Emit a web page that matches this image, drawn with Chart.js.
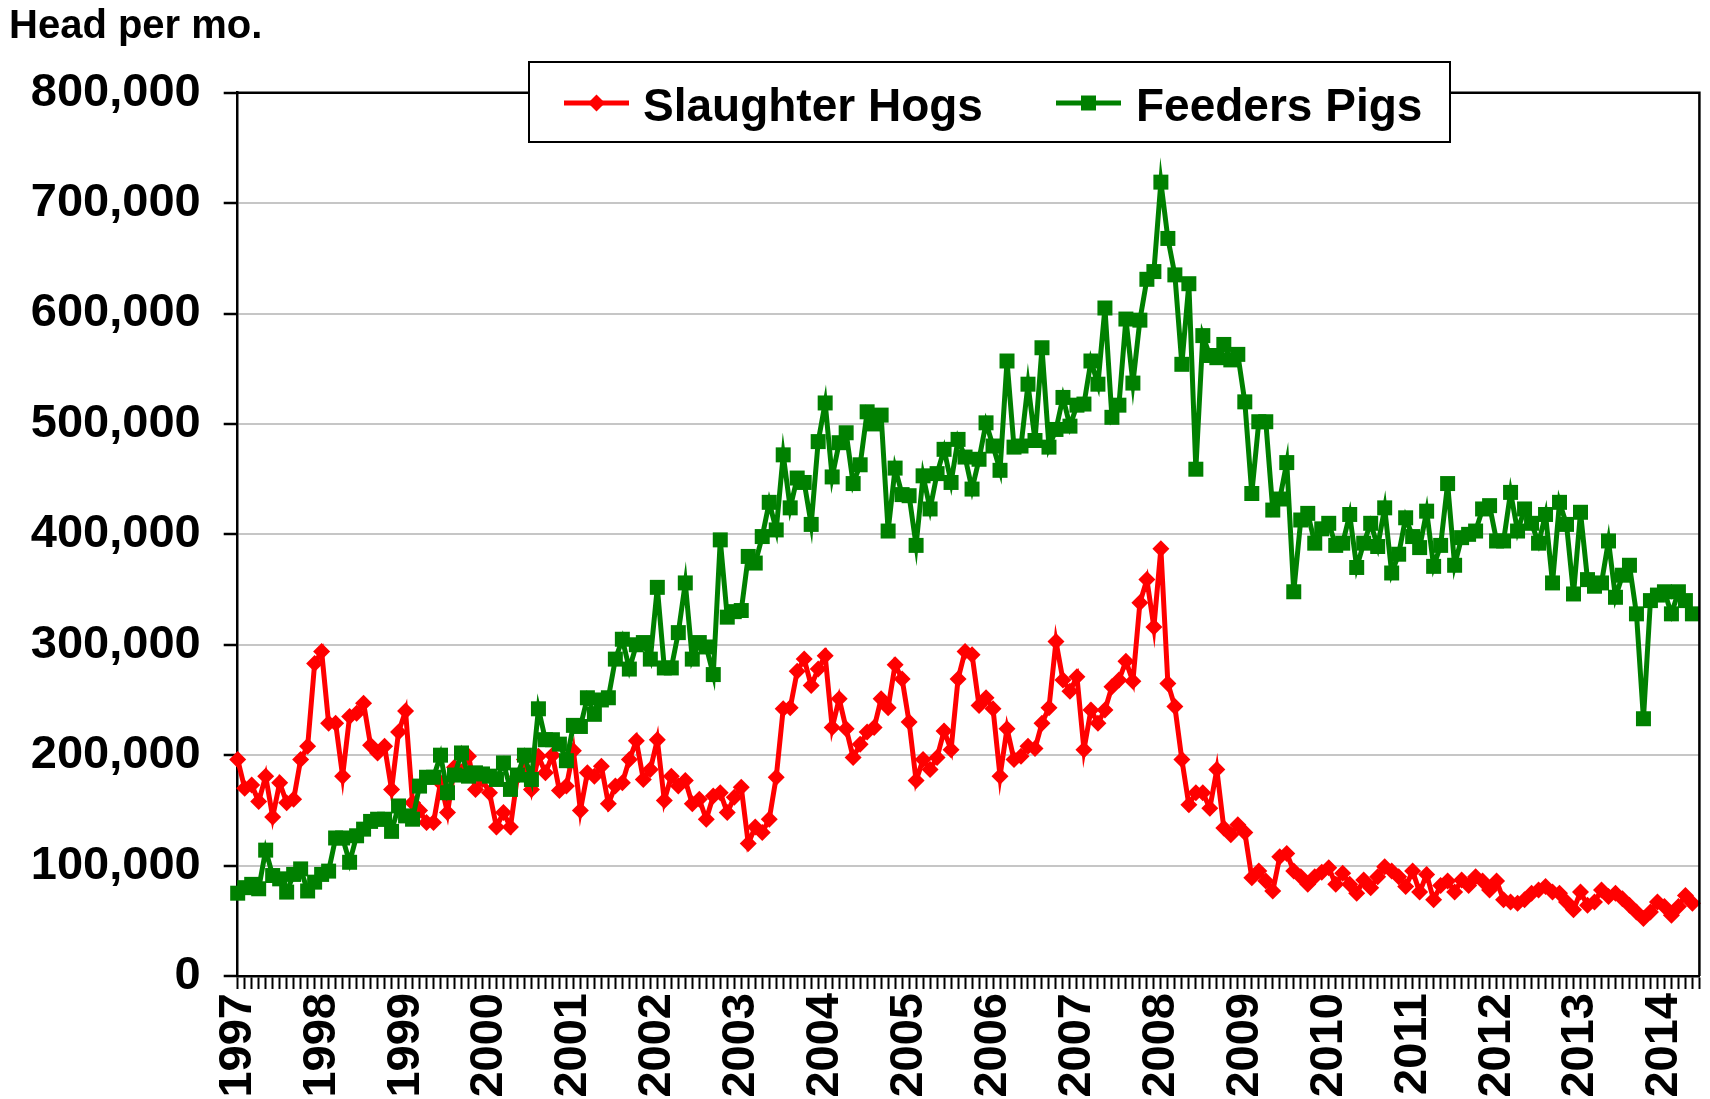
<!DOCTYPE html>
<html>
<head>
<meta charset="utf-8">
<script src="https://cdn.jsdelivr.net/npm/chart.js@4.4.1/dist/chart.umd.min.js"></script>
<style>
html,body{margin:0;padding:0;background:#fff;overflow:hidden}
canvas{display:block}
</style>
</head>
<body>
<canvas id="c" width="1710" height="1099"></canvas>
<script>
// ---- data (head per month) ----
const yearLabels = ['1997','1998','1999','2000','2001','2002','2003','2004','2005','2006','2007','2008','2009','2010','2011','2012','2013','2014'];
const monthNames = ['Jan','Feb','Mar','Apr','May','Jun','Jul','Aug','Sep','Oct','Nov','Dec'];
const monthCount = 210; // Jan 1997 .. Jun 2014 (last month without data)

const slaughterHogs = [
196000,170000,173000,158000,181000,144000,175000,157000,160000,196000,208000,283000,
294000,229000,229000,181000,235000,238000,247000,209000,202000,208000,169000,221000,
240000,157000,150000,139000,139000,175000,148000,189000,185000,199000,169000,178000,
166000,135000,148000,135000,181000,196000,169000,199000,184000,200000,168000,172000,
204000,150000,184000,181000,190000,156000,172000,175000,196000,213000,178000,187000,
214000,159000,181000,172000,177000,156000,160000,142000,163000,166000,148000,162000,
171000,120000,135000,130000,142000,180000,242000,243000,276000,287000,263000,278000,
290000,225000,251000,224000,198000,210000,221000,225000,251000,243000,282000,269000,
230000,177000,196000,187000,198000,222000,205000,269000,294000,291000,245000,252000,
242000,181000,224000,196000,199000,208000,206000,229000,243000,303000,268000,258000,
271000,205000,241000,229000,241000,262000,268000,285000,267000,338000,359000,316000,
387000,265000,244000,196000,155000,166000,166000,152000,187000,134000,128000,137000,
130000,89000,95000,86000,77000,108000,111000,95000,90000,83000,90000,94000,
98000,83000,93000,83000,75000,87000,80000,90000,99000,95000,90000,81000,
95000,76000,92000,69000,82000,86000,76000,87000,82000,90000,86000,78000,
86000,69000,67000,66000,69000,75000,78000,81000,76000,75000,67000,60000,
76000,64000,67000,78000,72000,75000,70000,64000,58000,52000,58000,67000,
63000,55000,63000,73000,66000
];

const feederPigs = [
75000,80000,83000,79000,114000,91000,88000,76000,92000,97000,77000,85000,
92000,95000,125000,125000,103000,127000,133000,140000,142000,142000,131000,154000,
145000,142000,172000,180000,180000,200000,166000,182000,202000,181000,184000,183000,
181000,178000,193000,169000,182000,200000,178000,242000,214000,214000,210000,195000,
227000,226000,252000,237000,250000,252000,287000,305000,278000,300000,302000,287000,
352000,279000,279000,311000,356000,287000,302000,298000,273000,395000,325000,330000,
331000,380000,374000,398000,429000,404000,472000,424000,451000,447000,409000,484000,
519000,452000,483000,492000,446000,463000,511000,500000,508000,403000,460000,436000,
435000,390000,453000,423000,455000,477000,447000,486000,470000,441000,468000,501000,
480000,458000,557000,479000,480000,536000,485000,569000,479000,495000,524000,498000,
517000,518000,557000,536000,605000,506000,517000,595000,537000,594000,631000,638000,
719000,668000,635000,554000,627000,459000,580000,562000,560000,572000,558000,563000,
520000,437000,502000,502000,422000,432000,465000,348000,413000,419000,392000,405000,
410000,390000,392000,418000,370000,392000,410000,389000,424000,365000,382000,415000,
398000,388000,421000,371000,390000,446000,372000,397000,400000,403000,423000,426000,
394000,394000,438000,403000,423000,410000,392000,418000,356000,429000,409000,346000,
420000,359000,353000,356000,394000,343000,363000,372000,328000,233000,340000,345000,
348000,328000,348000,340000,328000
];

const yTickValues = [0,100000,200000,300000,400000,500000,600000,700000,800000];

// category table built from the year labels
const categories = [];
for (let i = 0; i < monthCount; i++) {
  categories.push(monthNames[i % 12] + ' ' + yearLabels[Math.floor(i / 12)]);
}

const FONT = '"Liberation Sans", Arial, Helvetica, sans-serif';
const RED = '#FF0000';
const GREEN = '#008000';

const decorPlugin = {
  id: 'decor',
  beforeDraw(chart) {
    const ctx = chart.ctx;
    ctx.save();
    ctx.fillStyle = '#fff';
    ctx.fillRect(0, 0, chart.width, chart.height);
    ctx.restore();
  },
  afterDraw(chart) {
    const ctx = chart.ctx;
    const a = chart.chartArea;
    ctx.save();
    // plot border: top + right
    ctx.strokeStyle = '#000';
    ctx.lineWidth = 2.5;
    ctx.beginPath();
    ctx.moveTo(a.left, a.top);
    ctx.lineTo(a.right, a.top);
    ctx.lineTo(a.right, a.bottom);
    ctx.stroke();

    // title
    ctx.fillStyle = '#000';
    ctx.font = 'bold 40px ' + FONT;
    ctx.textAlign = 'left';
    ctx.textBaseline = 'alphabetic';
    ctx.fillText('Head per mo.', 9, 38);

    // legend box
    const lx = 529, ly = 62, lw = 921, lh = 80;
    ctx.fillStyle = '#fff';
    ctx.fillRect(lx, ly, lw, lh);
    ctx.strokeStyle = '#000';
    ctx.lineWidth = 2;
    ctx.strokeRect(lx, ly, lw, lh);

    const cy = 103;
    // red sample
    ctx.strokeStyle = RED; ctx.lineWidth = 5;
    ctx.beginPath(); ctx.moveTo(564, cy); ctx.lineTo(629, cy); ctx.stroke();
    ctx.fillStyle = RED;
    const dx = 596.5, r = 8.5;
    ctx.beginPath();
    ctx.moveTo(dx - r, cy); ctx.lineTo(dx, cy - r); ctx.lineTo(dx + r, cy); ctx.lineTo(dx, cy + r);
    ctx.closePath(); ctx.fill();
    // green sample
    ctx.strokeStyle = GREEN; ctx.lineWidth = 5;
    ctx.beginPath(); ctx.moveTo(1056, cy); ctx.lineTo(1121, cy); ctx.stroke();
    ctx.fillStyle = GREEN;
    ctx.fillRect(1088.5 - 7.5, cy - 7.5, 15, 15);

    ctx.fillStyle = '#000';
    ctx.font = 'bold 46px ' + FONT;
    ctx.fillText('Slaughter Hogs', 643, 121);
    ctx.fillText('Feeders Pigs', 1136, 121);
    ctx.restore();
  }
};

new Chart(document.getElementById('c'), {
  type: 'line',
  data: {
    labels: categories,
    datasets: [
      {
        label: 'Slaughter Hogs',
        data: slaughterHogs,
        borderColor: RED,
        backgroundColor: RED,
        borderWidth: 5,
        pointStyle: 'rectRot',
        pointRadius: 8.5,
        pointHoverRadius: 8.5,
        pointBackgroundColor: RED,
        pointBorderWidth: 0,
        tension: 0,
        fill: false,
        clip: false,
        order: 1
      },
      {
        label: 'Feeders Pigs',
        data: feederPigs,
        borderColor: GREEN,
        backgroundColor: GREEN,
        borderWidth: 5,
        pointStyle: 'rect',
        pointRadius: 10.6,
        pointHoverRadius: 10.6,
        pointBackgroundColor: GREEN,
        pointBorderWidth: 0,
        tension: 0,
        fill: false,
        clip: false,
        order: 0
      }
    ]
  },
  options: {
    responsive: false,
    animation: false,
    devicePixelRatio: 1,
    events: [],
    layout: { padding: { top: 92.7, right: 6, left: 0, bottom: 0 } },
    plugins: {
      legend: { display: false },
      tooltip: { enabled: false },
      title: { display: false }
    },
    scales: {
      x: {
        type: 'category',
        offset: false,
        grid: {
          display: true,
          drawOnChartArea: false,
          drawTicks: true,
          tickLength: 13,
          tickColor: '#000',
          tickWidth: 2,
          color: '#000'
        },
        border: { display: true, color: '#000', width: 2.5 },
        ticks: {
          autoSkip: false,
          maxRotation: 90,
          minRotation: 90,
          padding: 4,
          color: '#000',
          font: { family: FONT, size: 47, weight: 'bold' },
          callback: (v, i) => (i % 12 === 0 ? yearLabels[i / 12] : '')
        },
        afterFit: (s) => { s.height = 123; s.paddingLeft = 0; s.paddingRight = 0; }
      },
      y: {
        min: 0,
        max: 800000,
        afterBuildTicks: (s) => { s.ticks = yTickValues.map(v => ({ value: v })); },
        ticks: {
          padding: 23,
          color: '#000',
          font: { family: FONT, size: 47, weight: 'bold' },
          callback: (v) => Number(v).toLocaleString('en-US')
        },
        grid: {
          color: (c) => (c.tick && (c.tick.value === 0 || c.tick.value === 800000)) ? '#000' : '#c6c6c6',
          lineWidth: 2,
          tickColor: '#000',
          tickLength: 14,
          tickWidth: 2.5
        },
        border: { display: true, color: '#000', width: 2.5 },
        afterFit: (s) => { s.width = 237.7; }
      }
    }
  },
  plugins: [decorPlugin]
});
</script>
</body>
</html>
